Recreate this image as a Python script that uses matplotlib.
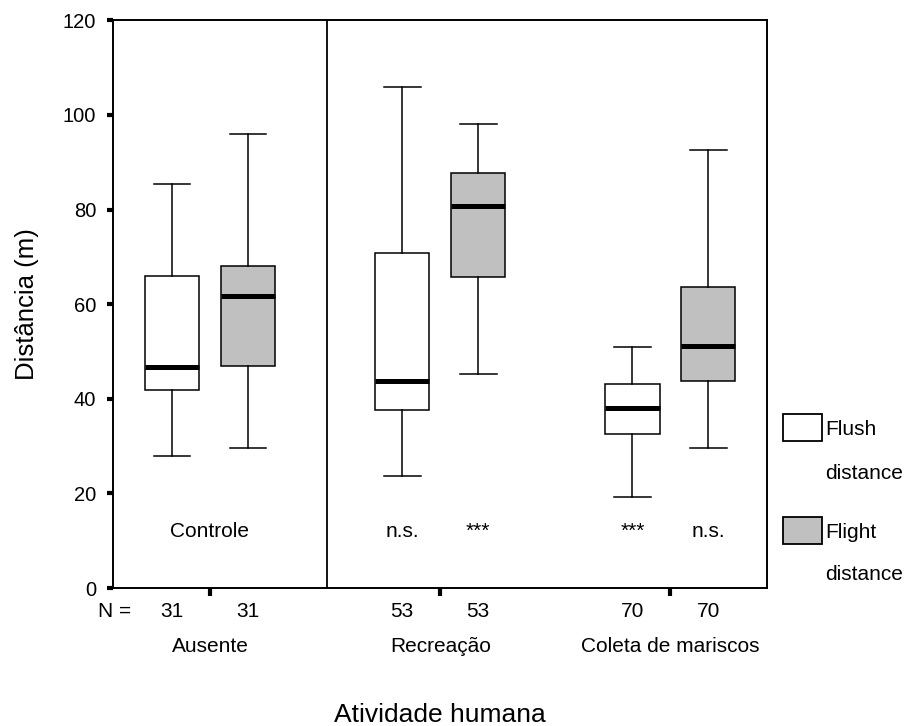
import numpy as np
import matplotlib.pyplot as plt
from matplotlib.patches import Rectangle
import matplotlib.transforms as mtransforms

plt.rcParams['font.family'] = 'Liberation Sans'
plt.rcParams['font.size'] = 15

# data
groups = ['Ausente', 'Recreação', 'Coleta de mariscos']
n_obs = [31, 53, 70]
# flush distance
flush_lo = [27.9, 23.7, 19.3]
flush_q1 = [41.8, 37.6, 32.5]
flush_med = [46.7, 43.7, 38.0]
flush_q3 = [65.9, 70.8, 43.1]
flush_hi = [85.4, 106.0, 50.9]
# flight distance
flight_lo = [29.6, 45.2, 29.6]
flight_q1 = [46.9, 65.7, 43.7]
flight_med = [61.7, 80.7, 51.1]
flight_q3 = [68.0, 87.7, 63.6]
flight_hi = [95.9, 98.0, 92.5]
flush_sig = ['', 'n.s.', '***']
flight_sig = ['', '***', 'n.s.']

fig = plt.figure(figsize=(9.1, 7.26), dpi=100)
ax = fig.add_axes([0.124, 0.190, 0.719, 0.782])

pos = np.arange(1, len(groups) + 1)
off = 0.165
w = 0.235

def stats(lo, q1, med, q3, hi):
    return [dict(whislo=lo[i], q1=q1[i], med=med[i], q3=q3[i], whishi=hi[i], fliers=[])
            for i in range(len(lo))]

common = dict(widths=w, patch_artist=True, showfliers=False,
              whiskerprops=dict(color='k', lw=1.1),
              capprops=dict(color='k', lw=1.1),
              medianprops=dict(color='k', lw=3.6, solid_capstyle='butt'),
              capwidths=0.16)
ax.bxp(stats(flush_lo, flush_q1, flush_med, flush_q3, flush_hi), positions=pos - off,
       boxprops=dict(facecolor='white', edgecolor='k', lw=1.1), **common)
ax.bxp(stats(flight_lo, flight_q1, flight_med, flight_q3, flight_hi), positions=pos + off,
       boxprops=dict(facecolor='#c0c0c0', edgecolor='k', lw=1.1), **common)

ax.set_xlim(0.578, 3.42)
ax.set_ylim(0, 120)
ax.axvline(1.509, color='k', lw=1.3)
for s in ax.spines.values():
    s.set_linewidth(1.4)

ax.set_yticks(np.arange(0, 121, 20))
ax.tick_params(axis='y', direction='out', length=4, width=3, pad=8, labelsize=14.5)
ax.set_xticks(pos)
ax.set_xticklabels([])
ax.tick_params(axis='x', direction='out', length=6, width=3)

# Controle / significance labels inside the plot
ax.text(pos[0], 10.8, 'Controle', ha='center', va='baseline')
for i in range(1, len(groups)):
    ax.text(pos[i] - off, 10.8, flush_sig[i], ha='center', va='baseline')
    ax.text(pos[i] + off, 10.8, flight_sig[i], ha='center', va='baseline')

# N row and group labels under the axis
trans = mtransforms.blended_transform_factory(ax.transData, ax.transAxes)
ax.text(-0.023, -0.051, 'N =', transform=ax.transAxes, ha='left', va='baseline')
for i in range(len(groups)):
    ax.text(pos[i] - off, -0.051, str(n_obs[i]), transform=trans, ha='center', va='baseline')
    ax.text(pos[i] + off, -0.051, str(n_obs[i]), transform=trans, ha='center', va='baseline')
    ax.text(pos[i], -0.1127, groups[i], transform=trans, ha='center', va='baseline')

ax.text(0.5, -0.236, 'Atividade humana', transform=ax.transAxes, ha='center', va='baseline', fontsize=19)
ax.text(-0.131, 0.5, 'Distância (m)', transform=ax.transAxes, rotation=90,
        ha='center', va='center', fontsize=18.5)

# legend drawn by hand, text wraps under the swatch
for y0, fc, lab, ytxt, ydist in [(0.393, 'white', 'Flush', 0.409, 0.348),
                                  (0.251, '#c0c0c0', 'Flight', 0.267, 0.208)]:
    fig.patches.append(Rectangle((0.860, y0), 0.043, 0.037, facecolor=fc, edgecolor='k',
                                 lw=1.3, transform=fig.transFigure))
    fig.text(0.907, ytxt, lab, ha='left', va='center')
    fig.text(0.907, ydist, 'distance', ha='left', va='center')

fig.savefig('out.png', dpi=100)
